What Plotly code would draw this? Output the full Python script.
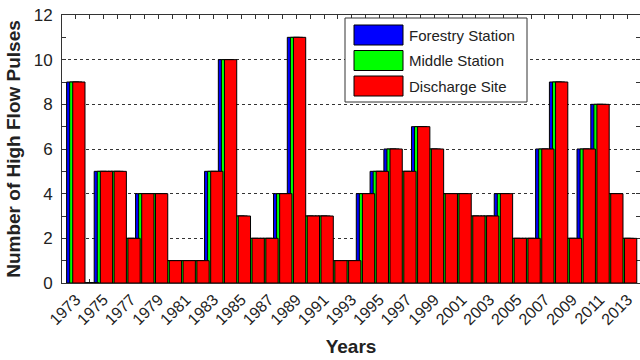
import plotly.graph_objects as go

# Annual count of high flow pulses at three gauging stations
years = list(range(1973, 2014))
forestry = [9, 0, 5, 5, 2, 4, 4, 1, 1, 1, 5, 10, 3, 2, 2, 4, 11, 3, 3, 1, 1,
            4, 5, 6, 5, 7, 6, 4, 4, 3, 3, 4, 2, 2, 6, 9, 2, 6, 8, 4, 2]
middle = [9, 0, 5, 5, 2, 4, 4, 1, 1, 1, 5, 10, 3, 2, 2, 4, 11, 3, 3, 1, 1,
          4, 5, 6, 5, 7, 6, 4, 4, 3, 3, 4, 2, 2, 6, 9, 2, 6, 8, 4, 2]
discharge = [9, 0, 5, 5, 2, 4, 4, 1, 1, 1, 5, 10, 3, 2, 2, 4, 11, 3, 3, 1, 1,
             4, 5, 6, 5, 7, 6, 4, 4, 3, 3, 4, 2, 2, 6, 9, 2, 6, 8, 4, 2]
series_names = ["Forestry Station", "Middle Station", "Discharge Site"]
series_colors = ["#0000FF", "#00FF00", "#FF0000"]
tick_text = [str(y) if (y - 1973) % 2 == 0 else "" for y in years]

W, H = 640, 360
ML, MR, MT, MB = 62, 0, 15, 77

# Wide overlapping grouped bars: each series shifted by 2/9 of a year
bar_w = 8 / 9
offsets = [-2 / 9 - bar_w / 2, -bar_w / 2, 2 / 9 - bar_w / 2]

fig = go.Figure()
for name, vals, col, off in zip(series_names, [forestry, middle, discharge],
                                series_colors, offsets):
    fig.add_trace(go.Bar(
        x=years, y=vals, name=name, width=bar_w, offset=off,
        marker=dict(color=col, line=dict(color="black", width=1)),
        showlegend=False,
    ))

FAMILY = "Liberation Sans, Arial, sans-serif"
axis_font = dict(family=FAMILY, size=16, color="#222")

fig.update_layout(
    width=W, height=H, autosize=False,
    margin=dict(l=ML, r=MR, t=MT, b=MB, pad=0),
    barmode="overlay",
    plot_bgcolor="white", paper_bgcolor="white",
    font=axis_font,
    xaxis=dict(
        range=[1972, 2013.9],
        tickmode="array", tickvals=years, ticktext=tick_text,
        tickangle=-45, tickfont=dict(family=FAMILY, size=16, color="#222"),
        ticks="inside", ticklen=4, tickcolor="#333",
        showline=True, linecolor="#333", linewidth=1, mirror="ticks",
        showgrid=False, zeroline=False, layer="below traces",
        title=dict(text="<b>Years</b>", standoff=12,
                   font=dict(family=FAMILY, size=19, color="#222")),
    ),
    yaxis=dict(
        range=[0, 12], tickmode="linear", tick0=0, dtick=2,
        tickfont=dict(family=FAMILY, size=17, color="#222"),
        ticklabelstandoff=5,
        ticks="inside", ticklen=4, tickcolor="#333",
        minor=dict(ticks="inside", dtick=1, ticklen=4, tickcolor="#333", showgrid=False),
        showline=True, linecolor="#333", linewidth=1, mirror="ticks",
        showgrid=True, gridcolor="#333", gridwidth=1, griddash="3px,3px",
        zeroline=False, layer="below traces",
        title=dict(text="<b>Number of High Flow Pulses</b>", standoff=8,
                   font=dict(family=FAMILY, size=19, color="#222")),
    ),
)

# Boxed legend with wide colour swatches, placed in pixel terms
PW, PH = W - ML - MR, H - MT - MB


def px_x(px):
    return (px - ML) / PW


def px_y(py):
    return (H - MB - py) / PH


box = (345, 18, 527, 102)
fig.add_shape(type="rect", xref="paper", yref="paper",
              x0=px_x(box[0]), x1=px_x(box[2]), y0=px_y(box[3]), y1=px_y(box[1]),
              fillcolor="white", line=dict(color="#333", width=1), layer="above")
for i, (name, col) in enumerate(zip(series_names, series_colors)):
    cy = 35 + i * 25.5
    fig.add_shape(type="rect", xref="paper", yref="paper",
                  x0=px_x(354), x1=px_x(403), y0=px_y(cy + 10), y1=px_y(cy - 10),
                  fillcolor=col, line=dict(color="black", width=1), layer="above")
    fig.add_annotation(xref="paper", yref="paper", x=px_x(407), y=px_y(cy),
                       text=name, showarrow=False, xanchor="left", yanchor="middle",
                       font=dict(family=FAMILY, size=15, color="#222"))

fig.write_html("out.html")
